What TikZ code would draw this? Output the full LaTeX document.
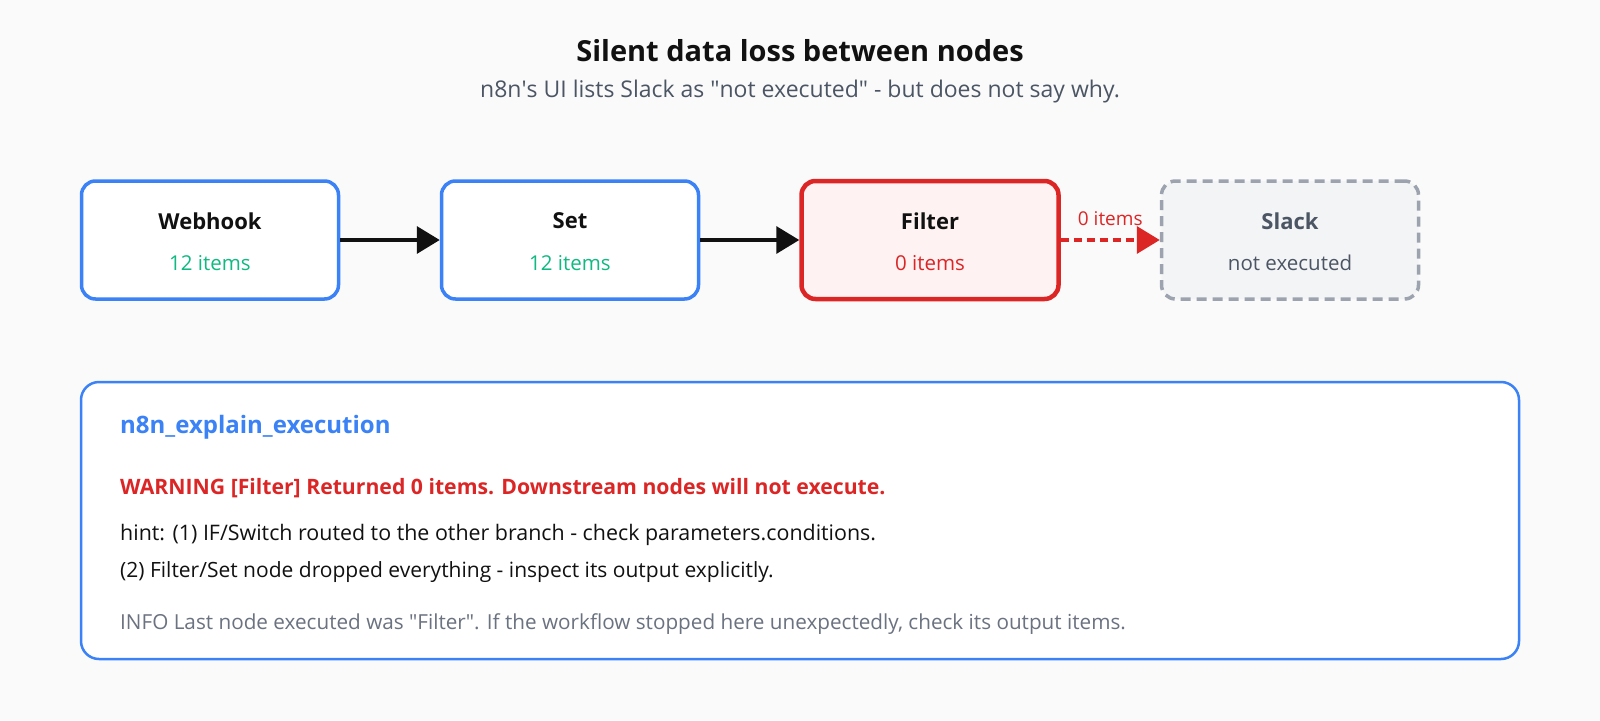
\documentclass[tikz,border=0pt]{standalone}
\usepackage{fontspec}
\setmainfont{Open Sans}
\usetikzlibrary{arrows.meta,positioning}

\definecolor{pagebg}{HTML}{FAFAFA}
\definecolor{flowblue}{HTML}{3B82F6}
\definecolor{okgreen}{HTML}{10B981}
\definecolor{errred}{HTML}{DC2626}
\definecolor{errfill}{HTML}{FEF2F2}
\definecolor{skipgray}{HTML}{9CA3AF}
\definecolor{skipfill}{HTML}{F3F4F6}
\definecolor{slate}{HTML}{4B5563}
\definecolor{infogray}{HTML}{6B7280}
\definecolor{ink}{HTML}{111111}

\newcommand{\fsz}[1]{\fontsize{#1}{#1}\selectfont}
\newcommand{\dq}{\textquotedbl}

\tikzset{
  wfbox/.style={draw=flowblue,line width=3.5pt,rounded corners=14pt,fill=white,
    minimum width=257pt,minimum height=118pt,inner sep=0pt},
  failbox/.style={wfbox,draw=errred,line width=4.5pt,fill=errfill},
  skipbox/.style={wfbox,draw=skipgray,fill=skipfill,dash pattern=on 10pt off 6pt},
  wfname/.style={font=\fsz{22}\bfseries,text=ink,inner sep=0pt},
  wfcount/.style={font=\fsz{20.5},inner sep=0pt},
  flow/.style={draw=ink,line width=3.5pt,-{Triangle[length=23pt,width=27pt]}},
  lost/.style={draw=errred,line width=3.5pt,dash pattern=on 8pt off 5pt,
    -{Triangle[length=23pt,width=27pt]}},
  logline/.style={anchor=west,inner sep=0pt}
}

\begin{document}
\begin{tikzpicture}[x=1pt,y=-1pt,font=\fsz{21}]
  \fill[pagebg] (0,0) rectangle (1600,720);
  \useasboundingbox (0,0) rectangle (1600,720);

  % heading
  \node[font=\fsz{29}\bfseries,text=ink] (title) at (800,51) {Silent data loss between nodes};
  \node[font=\fsz{23},text=slate] (subtitle) at (800,92) {n8n\textquotesingle s UI lists Slack as \dq not executed\dq{} - but does not say why.};

  % workflow
  \node[wfbox] (web) at (210,240) {};     \node[wfbox] (set) at (570,240) {};
  \node[failbox] (filter) at (930,240) {}; \node[skipbox] (slack) at (1290,240) {};
  \node[wfname] (webN) at (210,221) {Webhook};   \node[wfcount,text=okgreen] (webC) at (210,263) {12 items};
  \node[wfname] (setN) at (570,221) {Set};       \node[wfcount,text=okgreen] (setC) at (570,263) {12 items};
  \node[wfname] (filterN) at (930,221) {Filter}; \node[wfcount,text=errred] (filterC) at (930,263) {0 items};
  \node[wfname,text=slate] (slackN) at (1290,221) {Slack};
  \node[wfcount,text=slate] (slackC) at (1290,263) {not executed};

  \draw[flow] (web) -- (set);
  \draw[flow] (set) -- (filter);
  \draw[lost] (filter) -- node[above=13pt,font=\fsz{19},text=errred,inner sep=0pt]{0 items} (slack);

  % explain output
  \node[draw=flowblue,line width=2.5pt,rounded corners=18pt,fill=white,
    minimum width=1438pt,minimum height=277pt] (panel) at (800,520.5) {};
  \node[logline,font=\fsz{24}\bfseries,text=flowblue] (tool) at (120,427) {n8n\_explain\_execution};
  \node[logline,font=\fsz{21.2}\bfseries,text=errred] (warn) at (120,488) {WARNING [Filter] Returned 0 items. Downstream nodes will not execute.};
  \node[logline,font=\fsz{21.4},text=ink] (hint1) at (120,535) {hint: (1) IF/Switch routed to the other branch - check parameters.conditions.};
  \node[logline,text=ink] (hint2) at (120,572) {(2) Filter/Set node dropped everything - inspect its output explicitly.};
  \node[logline,font=\fsz{20.7},text=infogray] (info) at (120,624) {INFO Last node executed was \dq Filter\dq. If the workflow stopped here unexpectedly, check its output items.};
\end{tikzpicture}
\end{document}
